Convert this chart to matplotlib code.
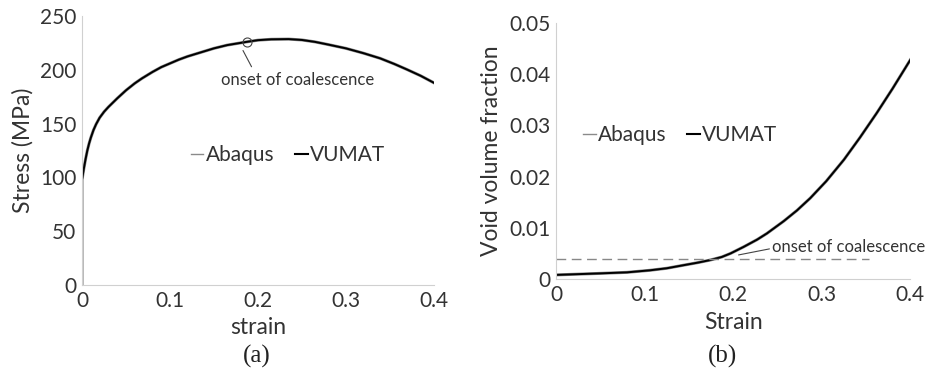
import matplotlib
matplotlib.use("Agg")
import matplotlib.pyplot as plt

plt.rcParams['font.family'] = ['Lato', 'DejaVu Sans']

# (a) stress-strain
strain_a = [0, 0.0, 0.002, 0.004, 0.006, 0.008, 0.01, 0.013, 0.016, 0.02, 0.025, 0.03,
            0.04, 0.05, 0.06, 0.068, 0.08, 0.09, 0.1, 0.11, 0.12, 0.134, 0.15, 0.165,
            0.187, 0.2, 0.215, 0.235, 0.25, 0.265, 0.28, 0.3, 0.32, 0.339, 0.355,
            0.369, 0.385, 0.4]
stress_a = [0, 98, 108, 117, 125, 131.5, 137, 144, 149.5, 155.5, 161, 165.5,
            173.5, 181, 187.5, 192, 198, 202.5, 206, 209.5, 212.5, 216, 220, 223,
            226, 227.6, 228.4, 228.6, 227.8, 226, 223.5, 220, 215.5, 210.7, 205.5,
            200.5, 194.5, 188]
onset_a = (0.187, 226)

# (b) void volume fraction
strain_b = [0, 0.05, 0.08, 0.106, 0.125, 0.144, 0.16, 0.174, 0.187, 0.197, 0.212, 0.227,
            0.238, 0.257, 0.272, 0.287, 0.305, 0.325, 0.343, 0.362, 0.38, 0.4]
fvoid_b = [0.0008, 0.0011, 0.0013, 0.0017, 0.0021, 0.0027, 0.0032, 0.0037, 0.0043,
           0.0050, 0.0063, 0.0077, 0.0089, 0.0113, 0.0134, 0.0158, 0.0191, 0.0233,
           0.0276, 0.0324, 0.0372, 0.0428]
fc = 0.0039
fc_end = 0.353

txt = '#333333'

fig = plt.figure(figsize=(9.27, 3.74), dpi=100)
ax1 = fig.add_axes([0.0885, 0.238, 0.3795, 0.719])
ax2 = fig.add_axes([0.600, 0.254, 0.382, 0.6845])

for ax in (ax1, ax2):
    for s in ('top', 'right'):
        ax.spines[s].set_visible(False)
    ax.spines['left'].set_color('#d0d0d0')
    ax.spines['bottom'].set_color('#d0d0d0')
    ax.tick_params(length=0, labelsize=15, colors=txt, pad=4)
    ax.set_xlim(0, 0.4)
    ax.set_xticks([0, 0.1, 0.2, 0.3, 0.4])
    ax.set_xticklabels(['0', '0.1', '0.2', '0.3', '0.4'])

ax1.plot(strain_a, stress_a, color='#8a8a8a', lw=2.2, label='Abaqus')
ax1.plot(strain_a, stress_a, color='black', lw=1.4, label='VUMAT')
ax1.plot(*onset_a, 'o', mfc='none', mec='#444444', ms=6.5, mew=0.8)
ax1.annotate('onset of coalescence', xy=(0.183, 218), xytext=(0.245, 191),
             ha='center', va='center', fontsize=12, color=txt,
             arrowprops=dict(arrowstyle='-', color='#444444', lw=0.8,
                             shrinkA=0, shrinkB=0, relpos=(0.2, 1.3)))
ax1.set_ylim(0, 250)
ax1.set_yticks([0, 50, 100, 150, 200, 250])
ax1.set_xlabel('strain', fontsize=16.5, color=txt, labelpad=5)
ax1.set_ylabel('Stress (MPa)', fontsize=16.5, color=txt, labelpad=5)
leg1 = ax1.legend(loc='center', bbox_to_anchor=(0.585, 0.483), ncol=2, frameon=False,
                  fontsize=15, handlelength=0.6, handletextpad=0.1, columnspacing=1.0,
                  labelcolor=txt)

ax2.plot(strain_b, fvoid_b, color='#8a8a8a', lw=2.2, label='Abaqus')
ax2.plot(strain_b, fvoid_b, color='black', lw=1.4, label='VUMAT')
ax2.plot([0, fc_end], [fc, fc], color='#888888', lw=1.0, dashes=(7, 4))
ax2.annotate('onset of coalescence', xy=(0.206, 0.0047), xytext=(0.244, 0.0063),
             ha='left', va='center', fontsize=12, color=txt,
             arrowprops=dict(arrowstyle='-', color='#444444', lw=0.8,
                             shrinkA=0, shrinkB=0, relpos=(0.0, 0.4)))
ax2.set_ylim(0, 0.05)
ax2.set_yticks([0, 0.01, 0.02, 0.03, 0.04, 0.05])
ax2.set_yticklabels(['0', '0.01', '0.02', '0.03', '0.04', '0.05'])
ax2.set_xlabel('Strain', fontsize=16.5, color=txt, labelpad=5)
ax2.set_ylabel('Void volume fraction', fontsize=16.5, color=txt, labelpad=5)
leg2 = ax2.legend(loc='center', bbox_to_anchor=(0.35, 0.5625), ncol=2, frameon=False,
                  fontsize=15, handlelength=0.6, handletextpad=0.1, columnspacing=1.0,
                  labelcolor=txt)
for leg in (leg1, leg2):
    leg.get_lines()[0].set_linewidth(1.0)
    leg.get_lines()[1].set_linewidth(1.5)

fig.text(0.277, 0.047, '(a)', ha='center', va='center', fontsize=18,
         family='Liberation Serif', color='#222222')
fig.text(0.779, 0.047, '(b)', ha='center', va='center', fontsize=18,
         family='Liberation Serif', color='#222222')

fig.savefig('out.png', dpi=100)
